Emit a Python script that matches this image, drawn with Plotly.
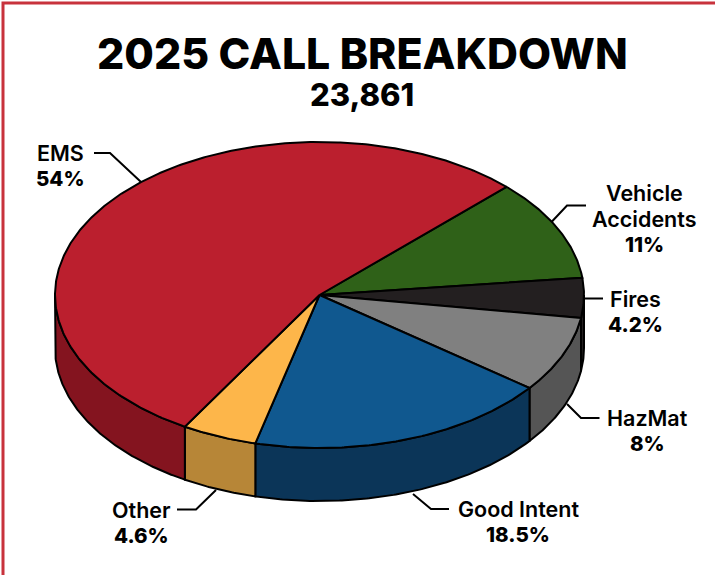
import numpy as np
import plotly.graph_objects as go

# ---- data ----
categories = [["Vehicle", "Accidents"], ["Fires"], ["HazMat"], ["Good Intent"], ["Other"], ["EMS"]]
percent_values = [11, 4.2, 8, 18.5, 4.6, 54]
value_labels = ["11%", "4.2%", "8%", "18.5%", "4.6%", "54%"]
title_text = "2025 CALL BREAKDOWN"
total_text = "23,861"

# ---- styles / geometry ----
top_colors = ["#2f6118", "#231f20", "#808080", "#10588f", "#fdb64a", "#bb1f2e"]
side_colors = ["#2f6118", "#231f20", "#555555", "#0b3558", "#b78637", "#84141f"]
CX, CY, RX, RY, DEPTH = 319.5, 295, 264.5, 153, 53
START_DEG = 45
FONT = "Inter"
LABEL_SIZE = 21.5
VALUE_SIZE = 20.5
LINE_STEP = 25.5
LABEL_POS = [(644, 193), (635, 299), (647, 418), (518, 509), (141, 510), (60, 153)]
LEADERS = [
    [(586, 205.5), (567, 205.5), (551.5, 222)],
    [(603, 298.5), (585, 298.5)],
    [(599.5, 418), (581, 418), (567, 404)],
    [(449, 509), (431, 509), (413, 494)],
    [(177, 509.5), (196, 509.5), (216, 490)],
    [(94, 153), (110, 153), (141, 182)],
]


def arc(a0, a1, dy=0.0):
    n = max(2, int(abs(a0 - a1) * 2) + 2)
    t = np.radians(np.linspace(a0, a1, n))
    return CX + RX * np.cos(t), CY - RY * np.sin(t) + dy


fig = go.Figure()
# The printed percentages add up to 100.3, so the first slice takes up the slack.
end_deg = START_DEG - 360.0
edges = end_deg + np.concatenate([np.cumsum(np.array(percent_values)[::-1])[::-1], [0]]) * 3.6
edges[0] = START_DEG

# side walls: only the part of each slice on the front half of the disc
for i in range(len(percent_values)):
    a0, a1 = min(edges[i], 0.0), max(edges[i + 1], -180.0)
    if a0 <= a1:
        continue
    xt, yt = arc(a0, a1)
    xb, yb = arc(a1, a0, DEPTH)
    fig.add_trace(go.Scatter(
        x=np.r_[xt, xb, xt[0]], y=np.r_[yt, yb, yt[0]], mode="lines", fill="toself",
        fillcolor=side_colors[i], line=dict(color="black", width=2), hoverinfo="skip"))

# top faces
for i in range(len(percent_values)):
    xt, yt = arc(edges[i], edges[i + 1])
    fig.add_trace(go.Scatter(
        x=np.r_[CX, xt, CX], y=np.r_[CY, yt, CY], mode="lines", fill="toself",
        fillcolor=top_colors[i], line=dict(color="black", width=2), hoverinfo="skip"))

# leader lines
for pts in LEADERS:
    fig.add_trace(go.Scatter(
        x=[p[0] for p in pts], y=[p[1] for p in pts], mode="lines",
        line=dict(color="black", width=2), hoverinfo="skip"))

annotations = [
    dict(x=362, y=53, text=title_text, font=dict(family=FONT, size=42.8, weight=800, color="black")),
    dict(x=361.5, y=94, text=total_text, font=dict(family=FONT, size=31, weight=800, color="black")),
]
for lines, val, (x, y) in zip(categories, value_labels, LABEL_POS):
    for j, line in enumerate(lines):
        annotations.append(dict(x=x, y=y + j * LINE_STEP, text=line,
                                font=dict(family=FONT, size=LABEL_SIZE, weight=600, color="black")))
    annotations.append(dict(x=x, y=y + len(lines) * LINE_STEP, text=val,
                            font=dict(family=FONT, size=VALUE_SIZE, weight=800, color="black")))
for a in annotations:
    a.update(xref="x", yref="y", showarrow=False, xanchor="center", yanchor="middle")

fig.update_layout(
    width=715, height=575, autosize=False, showlegend=False,
    margin=dict(l=0, r=0, t=0, b=0, pad=0),
    paper_bgcolor="white", plot_bgcolor="white",
    xaxis=dict(range=[0, 715], visible=False, fixedrange=True),
    yaxis=dict(range=[575, 0], visible=False, fixedrange=True),
    annotations=annotations,
    shapes=[dict(type="rect", xref="x", yref="y", x0=3, y0=3, x1=760, y1=640,
                 line=dict(color="#c8323c", width=3), layer="below")],
)
fig.write_html("out.html", config={"displayModeBar": False},
               post_script="document.body.style.margin='0';document.body.style.overflow='hidden';")
